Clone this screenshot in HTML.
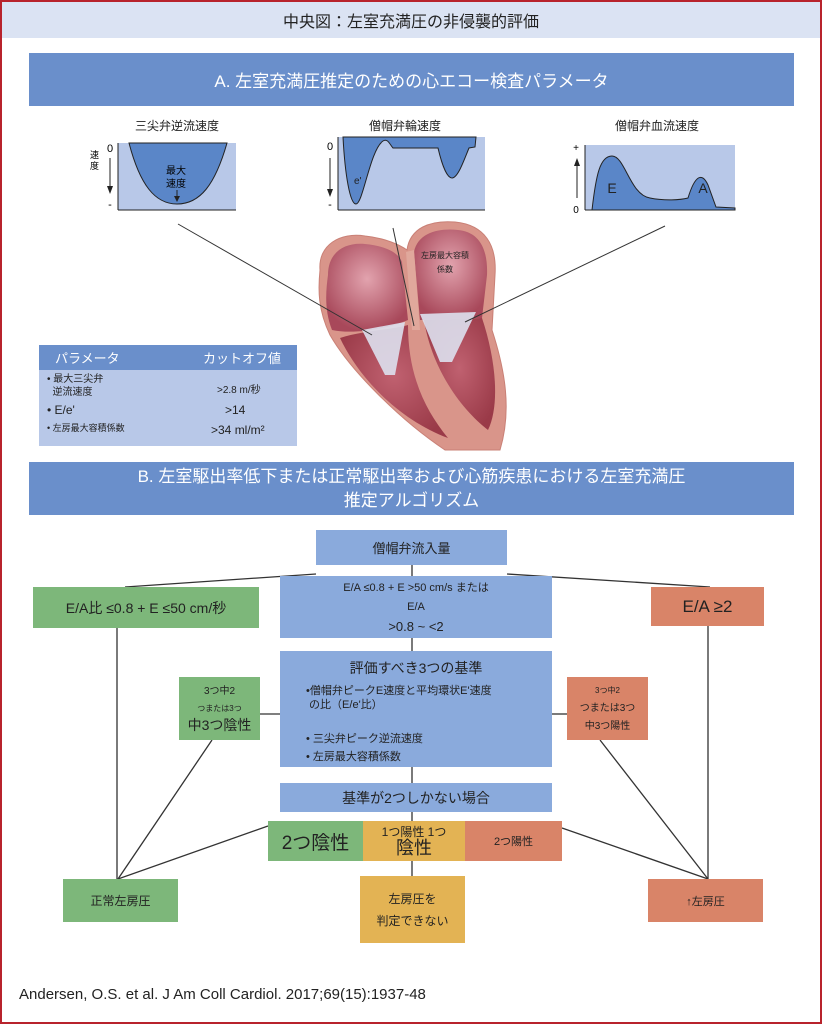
<!DOCTYPE html>
<html><head><meta charset="utf-8">
<style>
*{margin:0;padding:0;box-sizing:border-box}
body{width:822px;height:1024px;position:relative;background:#fff;font-family:"Liberation Sans","Noto Sans CJK JP",sans-serif;overflow:hidden}
.frame{position:absolute;left:0;top:0;width:822px;height:1024px;border:2px solid #b8232c}
.b{position:absolute;display:flex;flex-direction:column;align-items:center;justify-content:center;text-align:center;color:#222}
.blue{background:#8aaadc}.green{background:#7db77a}.red{background:#d98468}.yel{background:#e3b354}
.band{background:#6a8fcb;color:#fff;font-size:17px}
</style></head><body>
<div class="b" style="left:2px;top:2px;width:818px;height:36px;background:#dbe3f3;font-size:16px;color:#222">中央図：左室充満圧の非侵襲的評価</div>
<div class="b band" style="left:29px;top:53px;width:765px;height:53px">A. 左室充満圧推定のための心エコー検査パラメータ</div>
<div class="b band" style="left:29px;top:462px;width:765px;height:53px;line-height:24px">B. 左室駆出率低下または正常駆出率および心筋疾患における左室充満圧<br>推定アルゴリズム</div>

<svg width="822" height="1024" style="position:absolute;left:0;top:0">
<text x="177" y="130" font-size="12" text-anchor="middle" fill="#222">三尖弁逆流速度</text>
<text x="405" y="130" font-size="12" text-anchor="middle" fill="#222">僧帽弁輪速度</text>
<text x="657" y="130" font-size="12" text-anchor="middle" fill="#222">僧帽弁血流速度</text>
<!-- chart1 -->
<rect x="118" y="143" width="118" height="67" fill="#b8c8e8"/>
<path d="M129,143 C140,185 155,204 177,204 C200,204 215,185 227,143 Z" fill="#5a86c8" stroke="#222"/>
<line x1="118" y1="143" x2="118" y2="210" stroke="#222"/><line x1="118" y1="210" x2="236" y2="210" stroke="#222"/>
<text x="176" y="174" font-size="10" text-anchor="middle">最大</text><text x="176" y="187" font-size="10" text-anchor="middle">速度</text>
<line x1="177" y1="190" x2="177" y2="199" stroke="#222"/><path d="M174,196 L177,202 L180,196Z" fill="#222"/>
<text x="110" y="152" font-size="11" text-anchor="middle">0</text><text x="110" y="208" font-size="11" text-anchor="middle">-</text>
<text x="90" y="158" font-size="9">速</text><text x="90" y="169" font-size="9">度</text>
<line x1="110" y1="158" x2="110" y2="190" stroke="#222"/><path d="M107,186 L110,194 L113,186Z" fill="#222"/>
<!-- chart2 -->
<rect x="338" y="137" width="147" height="73" fill="#b8c8e8"/>
<path d="M343,137 C345,175 350,204 356,204 C363,204 370,150 383,141 C388,138 390,145 393,148 L438,148 C442,165 447,178 452,178 C458,178 464,160 469,148 L475,147 L476,137Z" fill="#5a86c8" stroke="#222"/>
<line x1="338" y1="137" x2="338" y2="210" stroke="#222"/><line x1="338" y1="210" x2="485" y2="210" stroke="#222"/>
<text x="354" y="184" font-size="10" fill="#222">e'</text>
<text x="330" y="150" font-size="11" text-anchor="middle">0</text><text x="330" y="208" font-size="11" text-anchor="middle">-</text>
<line x1="330" y1="158" x2="330" y2="193" stroke="#222"/><path d="M327,189 L330,197 L333,189Z" fill="#222"/>
<!-- chart3 -->
<rect x="585" y="145" width="150" height="65" fill="#b8c8e8"/>
<path d="M592,210 C596,175 600,156 612,156 C625,156 630,195 650,198 C665,201 680,200 688,198 C695,175 702,172 708,185 L716,207 L735,208 L735,210Z" fill="#5a86c8" stroke="#222"/>
<line x1="585" y1="145" x2="585" y2="210" stroke="#222"/><line x1="585" y1="210" x2="735" y2="210" stroke="#222"/>
<text x="612" y="193" font-size="14" text-anchor="middle" fill="#222">E</text><text x="703" y="193" font-size="14" text-anchor="middle" fill="#222">A</text>
<text x="576" y="151" font-size="10" text-anchor="middle">+</text><text x="576" y="213" font-size="10" text-anchor="middle">0</text>
<line x1="577" y1="162" x2="577" y2="198" stroke="#222"/><path d="M574,166 L577,158 L580,166Z" fill="#222"/>
<!-- heart -->
<defs><radialGradient id="h" cx="0.5" cy="0.45" r="0.6"><stop offset="0" stop-color="#c06170"/><stop offset="1" stop-color="#9a3a48"/></radialGradient>
<radialGradient id="c" cx="0.5" cy="0.4" r="0.6"><stop offset="0" stop-color="#e2a3ae"/><stop offset="1" stop-color="#a8485a"/></radialGradient></defs>
<path d="M320,270 C318,245 340,232 365,236 C385,238 400,245 407,250 C410,228 430,220 455,222 C485,225 497,245 495,275 L492,330 C505,370 512,410 500,450 L445,450 C400,420 350,370 330,335 C318,310 318,290 320,270Z" fill="#d9958a" stroke="#c98076"/>
<path d="M328,275 C328,252 345,242 365,244 C385,246 398,252 402,262 L408,320 C390,328 355,335 332,330 C324,310 326,290 328,275Z" fill="url(#c)"/>
<path d="M414,252 C418,232 440,228 458,230 C480,232 488,250 487,275 L482,318 L420,320Z" fill="url(#c)"/>
<path d="M340,338 C365,330 392,330 408,325 C408,375 425,410 448,438 C400,420 360,380 340,338Z" fill="url(#h)"/>
<path d="M424,320 L482,318 C496,360 500,405 488,430 C462,410 432,370 424,320Z" fill="url(#h)"/>
<path d="M362,330 L405,322 L395,375 L385,375Z" fill="#dde0ee" opacity="0.9"/>
<path d="M420,314 L476,312 L452,362 L440,362Z" fill="#dde0ee" opacity="0.9"/>
<path d="M406,252 L412,330 L420,330 L414,250Z" fill="#e0a89c"/>
<text x="445" y="258" font-size="8" text-anchor="middle" fill="#222">左房最大容積</text>
<text x="445" y="272" font-size="8" text-anchor="middle" fill="#222">係数</text>
<line x1="178" y1="224" x2="372" y2="335" stroke="#333"/>
<line x1="393" y1="228" x2="414" y2="326" stroke="#333"/>
<line x1="665" y1="226" x2="465" y2="322" stroke="#333"/>
<!-- flow lines -->
<g stroke="#333" stroke-width="1.3" fill="none">
<line x1="316" y1="574" x2="125" y2="587"/>
<line x1="507" y1="574" x2="710" y2="587"/>
<line x1="412" y1="565" x2="412" y2="876"/>
<line x1="117" y1="628" x2="117" y2="879"/>
<line x1="708" y1="626" x2="708" y2="879"/>
<line x1="212" y1="740" x2="118" y2="879"/>
<line x1="268" y1="826" x2="118" y2="879"/>
<line x1="600" y1="740" x2="708" y2="879"/>
<line x1="562" y1="828" x2="708" y2="879"/>
<line x1="260" y1="714" x2="280" y2="714"/>
<line x1="552" y1="714" x2="567" y2="714"/>
</g>
</svg>

<div class="b" style="left:39px;top:345px;width:258px;height:101px;background:#b8c8e8;display:block;text-align:left;font-size:10px">
<div style="background:#6a8fcb;height:25px;display:flex;justify-content:space-between;align-items:center;padding:0 16px 0 16px;font-size:13px;color:#fff"><span>パラメータ</span><span>カットオフ値</span></div>
<div style="position:absolute;left:8px;top:28px;line-height:13px">• 最大三尖弁<br>&nbsp; 逆流速度</div>
<div style="position:absolute;left:178px;top:36px">&gt;2.8 m/秒</div>
<div style="position:absolute;left:8px;top:58px;font-size:12px">• E/e'</div>
<div style="position:absolute;left:186px;top:58px;font-size:12px">&gt;14</div>
<div style="position:absolute;left:8px;top:76px;font-size:9px">• 左房最大容積係数</div>
<div style="position:absolute;left:172px;top:78px;font-size:12px">&gt;34 ml/m²</div>
</div>

<div class="b blue" style="left:316px;top:530px;width:191px;height:35px;font-size:13px">僧帽弁流入量</div>
<div class="b blue" style="left:280px;top:576px;width:272px;height:62px;font-size:11px;line-height:19px">E/A ≤0.8 + E &gt;50 cm/s または<br>E/A<br><span style="font-size:13px">&gt;0.8 ~ &lt;2</span></div>
<div class="b green" style="left:33px;top:587px;width:226px;height:41px;font-size:14px">E/A比 ≤0.8 + E ≤50 cm/秒</div>
<div class="b red" style="left:651px;top:587px;width:113px;height:39px;font-size:17px">E/A ≥2</div>
<div class="b blue" style="left:280px;top:651px;width:272px;height:116px;display:block;text-align:left;font-size:11px">
<div style="text-align:center;font-size:14px;margin-top:7px">評価すべき3つの基準</div>
<div style="margin:6px 0 0 26px;line-height:14px">•僧帽弁ピークE速度と平均環状E'速度<br>&nbsp;の比（E/e'比）</div>
<div style="margin:18px 0 0 26px;line-height:18px">• 三尖弁ピーク逆流速度<br>• 左房最大容積係数</div>
</div>
<div class="b green" style="left:179px;top:677px;width:81px;height:63px;font-size:10px;line-height:17px">3つ中2<br><span style="font-size:8px">つまたは3つ</span><span style="font-size:14px">中3つ陰性</span></div>
<div class="b red" style="left:567px;top:677px;width:81px;height:63px;font-size:10px;line-height:18px"><span style="font-size:8px">3つ中2</span>つまたは3つ<br>中3つ陽性</div>
<div class="b blue" style="left:280px;top:783px;width:272px;height:29px;font-size:14px">基準が2つしかない場合</div>
<div class="b green" style="left:268px;top:821px;width:95px;height:40px;font-size:19px">2つ陰性</div>
<div class="b yel" style="left:363px;top:821px;width:102px;height:40px;font-size:12px;line-height:14px">1つ陽性 1つ<br><span style="font-size:18px;line-height:18px">陰性</span></div>
<div class="b red" style="left:465px;top:821px;width:97px;height:40px;font-size:11px">2つ陽性</div>
<div class="b green" style="left:63px;top:879px;width:115px;height:43px;font-size:12px">正常左房圧</div>
<div class="b yel" style="left:360px;top:876px;width:105px;height:67px;font-size:12px;line-height:22px">左房圧を<br>判定できない</div>
<div class="b red" style="left:648px;top:879px;width:115px;height:43px;font-size:11px">↑左房圧</div>

<div style="position:absolute;left:19px;top:986px;font-size:15px;color:#222">Andersen, O.S. et al. J Am Coll Cardiol. 2017;69(15):1937-48</div>
<div class="frame"></div>
</body></html>
